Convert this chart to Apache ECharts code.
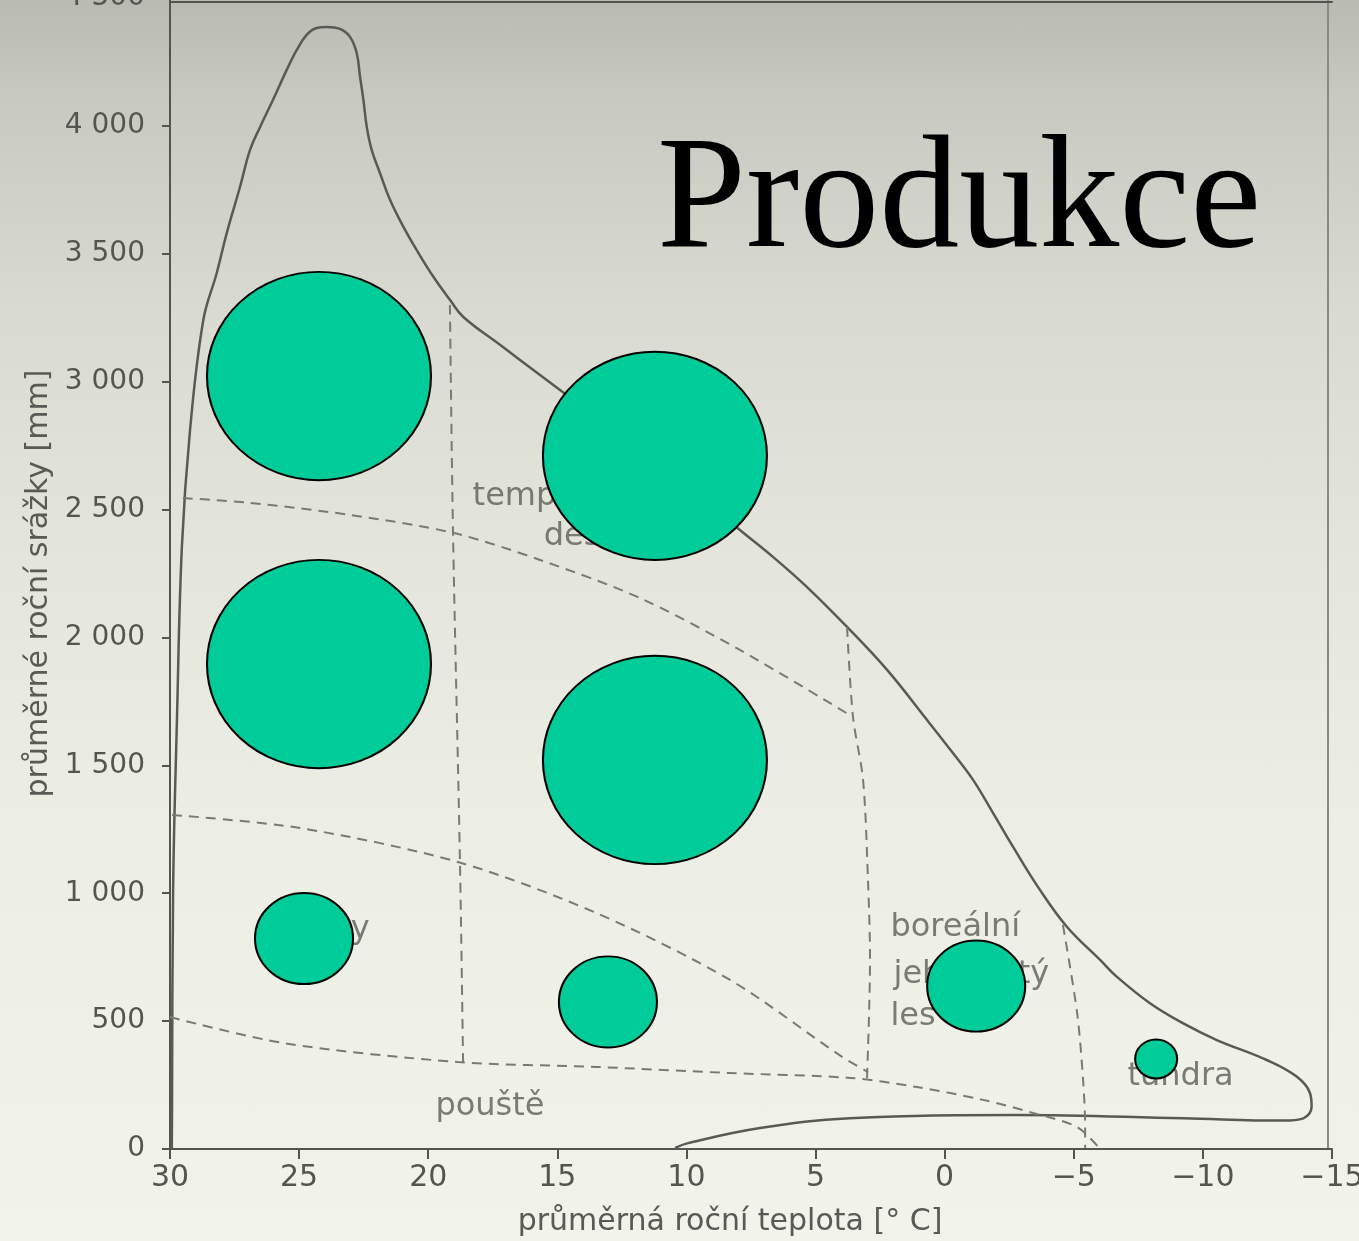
<!DOCTYPE html>
<html><head><meta charset="utf-8">
<script src="https://cdn.jsdelivr.net/npm/echarts@6/dist/echarts.min.js"></script>
<style>
html,body{margin:0;padding:0;}
#c{width:1359px;height:1241px;background:linear-gradient(to bottom,#b9bab2 0%,#c8c9c0 8%,#d9dad0 25%,#e4e5db 45%,#eceee4 65%,#f2f3ea 100%);}
</style></head><body><div id="c"></div>
<script>
// ---- data (temperature °C, precipitation mm) ----
const outlineTemp = [29.93,29.92,29.88,29.73,29.54,29.23,28.71,28.19,27.80,27.29,26.90,26.51,26.01,25.48,25.09,24.71,24.32,23.93,23.42,23.03,22.77,22.64,22.51,22.38,22.19,21.87,21.48,20.96,20.45,19.80,19.16,18.64,17.22,15.67,13.35,11.02,9.47,7.93,6.65,5.33,3.78,2.23,0.68,-0.32,-1.10,-1.87,-2.65,-3.69,-4.74,-6.02,-6.66,-7.95,-9.24,-10.54,-12.47,-13.63,-14.15,-14.21,-13.89,-13.12,-9.24,-2.79,3.67,7.15,9.94,10.44];
const outlinePrecip = [0,192,1009,1681,2354,2804,3241,3425,3582,3761,3906,3996,4102,4219,4297,4356,4383,4387,4379,4348,4285,4192,4102,3996,3906,3816,3711,3605,3515,3410,3320,3253,3144,3026,2850,2671,2549,2420,2315,2197,2041,1873,1677,1548,1443,1314,1181,1013,868,739,674,570,491,426,348,283,218,165,120,111,120,133,120,82,23,4];

const bound1Temp = [29.5,26.9,23.03,19.04,15.67,11.80,7.93,3.55];
const bound1Precip = [2545,2526,2479,2409,2303,2154,1951,1689];
const bound2Temp = [19.16,19.04,18.77,18.65];
const bound2Precip = [3300,2409,1118,340];
const bound3Temp = [3.78,3.55,3.16,2.97,2.89,3.01];
const bound3Precip = [2041,1689,1443,1052,739,270];
const bound4Temp = [29.92,24.97,18.85,13.50,8.31,3.97,2.97];
const bound4Precip = [1306,1255,1122,923,661,360,301];
const bound5Temp = [30,25.59,18.85,13.50,8.31,3.67,1.07,-1.49,-3.42,-5.13,-5.98];
const bound5Precip = [516,414,340,321,297,278,242,192,141,86,4];
const bound6Temp = [-4.58,-5.13,-5.36,-5.44,-5.44];
const bound6Precip = [876,532,270,86,4];

const labelNames = ['temperátní','deštný les','savany','pouště','boreální','jehličnatý','les','tundra'];
const labelTemp = [18.30,15.55,22.25,17.61,2.12,2.00,2.12,-7.06];
const labelPrecip = [2549,2393,856,164,864,680,516,282];

const bubbleTemp = [24.23,24.23,11.22,11.22,24.81,13.04,-1.22,-8.19];
const bubblePrecip = [3022,1896,2710,1521,823,575,637,352];
const bubbleProduction = [2240,2240,2240,2240,980,980,980,420];

const titleText = 'Produkce';
const xName = 'průměrná roční teplota [° C]';
const yName = 'průměrné roční srážky [mm]';

// ---- build ----
const zip = (a, b) => a.map((v, i) => [v, b[i]]);
const scanFont = 'DejaVu Sans';
const dashStyle = {color:'#7a7a74', width:2, type:[10,7]};
const bounds = [[bound1Temp,bound1Precip],[bound2Temp,bound2Precip],[bound3Temp,bound3Precip],
  [bound4Temp,bound4Precip],[bound5Temp,bound5Precip],[bound6Temp,bound6Precip]];

const labelPos = {'savany':'left','pouště':'inside'};

const chart = echarts.init(document.getElementById('c'), null, {renderer:'canvas'});
const series = [];
series.push({type:'line', data: zip(outlineTemp, outlinePrecip), smooth:0.4, symbol:'none',
  lineStyle:{color:'#5a5a55', width:2.5}, silent:true, z:2});
bounds.forEach(b => series.push({type:'line', data: zip(b[0], b[1]), smooth:0.3, symbol:'none',
  lineStyle: dashStyle, silent:true, z:2}));
series.push({type:'scatter', symbolSize:1, itemStyle:{color:'rgba(0,0,0,0)'}, silent:true, z:3,
  data: labelNames.map((n, i) => ({value:[labelTemp[i], labelPrecip[i]], name:n,
    label:{position: labelPos[n] || 'right'}})),
  label:{show:true, formatter: p => p.name, distance:0, fontFamily:scanFont, fontSize:32, color:'#5e5e59'}});
series.push({type:'scatter', silent:true, z:10,
  data: bubbleTemp.map((t, i) => [t, bubblePrecip[i], bubbleProduction[i]]),
  symbolSize: v => [v[2] * 0.1, v[2] * 0.1 * 0.93],
  itemStyle:{color:'#00CC99', borderColor:'#000', borderWidth:2, opacity:1}});

const axisLine = {show:true, onZero:false, lineStyle:{color:'#55554f', width:2}};
chart.setOption({
  animation:false,
  title:{text:titleText, left:657, top:124, padding:0,
    textStyle:{fontFamily:'Liberation Serif', fontSize:160, fontWeight:'normal', color:'#000'}},
  grid:{left:170, right:27, top:-2, bottom:92, containLabel:false, outerBoundsMode:'none'},
  xAxis:[{type:'value', min:-15, max:30, interval:5, inverse:true,
    name:xName, nameLocation:'middle', nameGap:58,
    nameTextStyle:{fontFamily:scanFont, fontSize:30, color:'#5a5a55', padding:[0,42,0,0]},
    axisLine:axisLine, axisTick:{show:true, inside:false, length:10, lineStyle:{color:'#55554f', width:2}},
    axisLabel:{fontFamily:scanFont, fontSize:30, color:'#55554f', margin:14,
      formatter: v => v < 0 ? '\u2212' + (-v) : String(v)},
    splitLine:{show:false}},
   {type:'value', position:'top', offset:-4, min:-15, max:30, inverse:true,
    axisLine:axisLine, axisTick:{show:false}, axisLabel:{show:false}, splitLine:{show:false}}],
  yAxis:[{type:'value', min:0, max:4500, interval:500,
    name:yName, nameLocation:'middle', nameGap:116, nameRotate:90,
    nameTextStyle:{fontFamily:scanFont, fontSize:30, color:'#5a5a55', padding:[0,20,0,0]},
    axisLine:axisLine, axisTick:{show:true, inside:false, length:8, lineStyle:{color:'#55554f', width:2}},
    axisLabel:{fontFamily:scanFont, fontSize:28, color:'#55554f', margin:25,
      formatter: v => v >= 1000 ? Math.floor(v/1000) + ' ' + String(v % 1000).padStart(3,'0') : String(v)},
    splitLine:{show:false}},
   {type:'value', position:'right', offset:-4, min:0, max:4500,
    axisLine:{show:true, onZero:false, lineStyle:{color:'#8a8a85', width:2}}, axisTick:{show:false}, axisLabel:{show:false}, splitLine:{show:false}}],
  series: series
});
</script></body></html>
